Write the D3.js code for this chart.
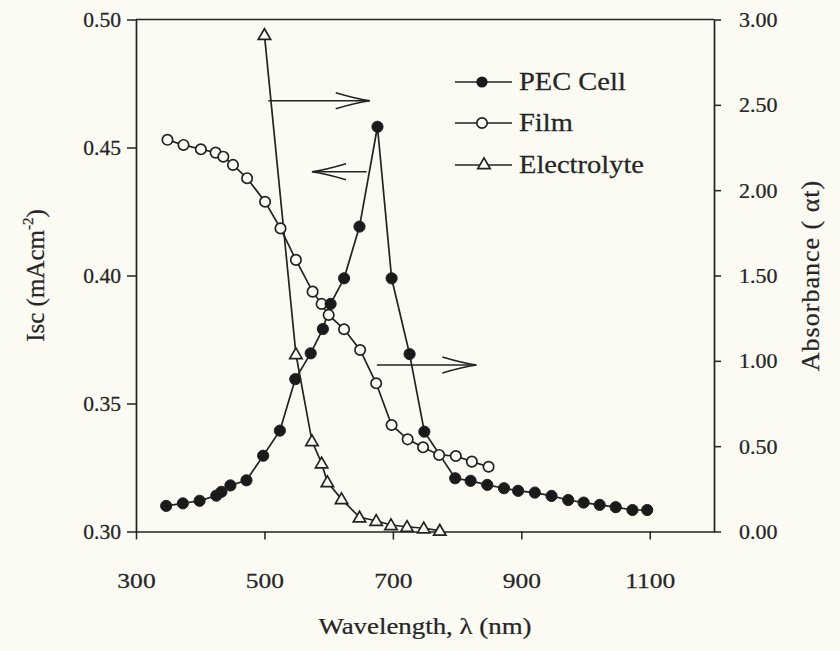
<!DOCTYPE html>
<html>
<head>
<meta charset="utf-8">
<script src="https://cdn.jsdelivr.net/npm/d3@7"></script>
<style>
  html, body { margin: 0; padding: 0; background: #fbfaf3; }
  svg { display: block; }
  text { font-family: "Liberation Serif", "Times New Roman", serif; fill: #262626; stroke: #262626; stroke-width: 0.25; }
</style>
</head>
<body>
<svg id="chart" width="840" height="651"></svg>
<script>
// ---------- data ----------
const wavelengthTicks = [300, 500, 700, 900, 1100];
const iscTicks = [0.30, 0.35, 0.40, 0.45, 0.50];
const absTicks = [0.00, 0.50, 1.00, 1.50, 2.00, 2.50, 3.00];

const pecWavelength = [347, 373, 399, 425, 433, 447, 472, 498, 524, 548, 572, 591, 603, 624, 648, 676, 698, 726, 749, 797, 821, 847, 873, 895, 921, 947, 973, 997, 1022, 1047, 1073, 1096];
const pecIsc        = [0.310, 0.311, 0.312, 0.314, 0.3155, 0.318, 0.320, 0.3296, 0.3394, 0.3595, 0.3696, 0.3791, 0.3889, 0.3989, 0.4191, 0.4581, 0.3989, 0.3693, 0.3390, 0.3208, 0.3198, 0.3182, 0.3169, 0.3159, 0.3152, 0.3139, 0.3123, 0.3113, 0.3104, 0.3095, 0.3084, 0.3084];

const filmWavelength = [349, 374, 401, 424, 436, 451, 473, 501, 525, 549, 575, 589, 600, 624, 649, 674, 698, 723, 747, 772, 798, 823, 849];
const filmIsc        = [0.453, 0.451, 0.4493, 0.448, 0.4464, 0.4432, 0.438, 0.4288, 0.4184, 0.4061, 0.3937, 0.3889, 0.3846, 0.379, 0.3709, 0.3579, 0.3416, 0.336, 0.3329, 0.3299, 0.3295, 0.3273, 0.3253];

const electrolyteWavelength = [500, 549, 574, 589, 598, 620, 648, 674, 697, 722, 748, 773];
const electrolyteAbs        = [2.91, 1.04, 0.53, 0.40, 0.29, 0.19, 0.083, 0.063, 0.038, 0.028, 0.019, 0.005];

const seriesNames = ["PEC Cell", "Film", "Electrolyte"];

// annotation arrows, in data units: [from wavelength, to wavelength, level, axis]
const arrowFrom  = [506, 659, 675];
const arrowTo    = [664, 574, 830];
const arrowLevel = [2.524, 0.4405, 0.976];
const arrowAxis  = ["right", "left", "right"];

// ---------- layout ----------
const W = 840, H = 651;
const plot = { left: 136, right: 714, top: 19.5, bottom: 531.5 };
const ink = "#222";
const paper = "#fbfaf3";

const svg = d3.select("#chart");
svg.append("rect").attr("width", W).attr("height", H).attr("fill", paper);

const x = d3.scaleLinear().domain([300, 1200]).range([plot.left, plot.right]);
const yL = d3.scaleLinear().domain([0.30, 0.50]).range([plot.bottom, plot.top]);
const yR = d3.scaleLinear().domain([0, 3]).range([plot.bottom, plot.top]);

function stretchedText(g, tx, ty, str, size, anchor, sx) {
  return g.append("text")
    .attr("transform", `translate(${tx},${ty}) scale(${sx},1)`)
    .attr("text-anchor", anchor || "start")
    .attr("font-size", size)
    .text(str);
}

// ---------- axes ----------
const axisStyle = sel => {
  sel.select(".domain").attr("stroke", ink).attr("stroke-width", 1.7);
  sel.selectAll(".tick line").attr("stroke", ink).attr("stroke-width", 1.5);
  sel.selectAll(".tick text").remove();
};

const gx = svg.append("g").attr("transform", `translate(0,${plot.bottom})`)
  .call(d3.axisBottom(x).tickValues(wavelengthTicks).tickSize(8).tickSizeOuter(0));
axisStyle(gx);
gx.selectAll(".tick").each(function(d) {
  stretchedText(d3.select(this), 0, 56, d3.format("d")(d), 22, "middle", 1.16);
});

const gyl = svg.append("g").attr("transform", `translate(${plot.left},0)`)
  .call(d3.axisLeft(yL).tickValues(iscTicks).tickSize(9).tickSizeOuter(0));
axisStyle(gyl);
gyl.selectAll(".tick").each(function(d) {
  stretchedText(d3.select(this), -15, 7, d3.format(".2f")(d), 20, "end", 1.08);
});

const gyr = svg.append("g").attr("transform", `translate(${plot.right},0)`)
  .call(d3.axisRight(yR).tickValues(absTicks).tickSize(7).tickSizeOuter(0));
axisStyle(gyr);
gyr.selectAll(".tick").each(function(d) {
  stretchedText(d3.select(this), 25, 7, d3.format(".2f")(d), 20, "start", 1.1);
});

// top frame line
svg.append("line")
  .attr("x1", x(300)).attr("x2", x(1200))
  .attr("y1", yL(0.50)).attr("y2", yL(0.50))
  .attr("stroke", ink).attr("stroke-width", 1.7);

// ---------- axis titles ----------
stretchedText(svg, (plot.left + plot.right) / 2, 634, "Wavelength, λ (nm)", 24, "middle", 1.12);

const leftTitle = svg.append("text")
  .attr("transform", `translate(44,${(plot.top + plot.bottom) / 2}) rotate(-90)`)
  .attr("text-anchor", "middle").attr("font-size", 25);
leftTitle.append("tspan").text("Isc (mAcm");
leftTitle.append("tspan").attr("font-size", 15).attr("dy", -11).text("-2");
leftTitle.append("tspan").attr("dy", 11).text(")");

svg.append("text")
  .attr("transform", `translate(819,${(plot.top + plot.bottom) / 2}) rotate(-90)`)
  .attr("text-anchor", "middle").attr("font-size", 26).attr("letter-spacing", 1)
  .text("Absorbance ( αt)");

// ---------- series ----------
const pec = pecWavelength.map((w, i) => ({ w, v: pecIsc[i] }));
const film = filmWavelength.map((w, i) => ({ w, v: filmIsc[i] }));
const elec = electrolyteWavelength.map((w, i) => ({ w, v: electrolyteAbs[i] }));

const lineL = d3.line().x(d => x(d.w)).y(d => yL(d.v));
const lineR = d3.line().x(d => x(d.w)).y(d => yR(d.v));

const lines = svg.append("g").attr("fill", "none").attr("stroke", ink).attr("stroke-width", 1.7);
lines.append("path").attr("d", lineR(elec));
lines.append("path").attr("d", lineL(film));
lines.append("path").attr("d", lineL(pec));

const triSym = d3.symbol().type(d3.symbolTriangle).size(66);
const marks = svg.append("g");
marks.selectAll(".tri").data(elec).join("path")
  .attr("transform", d => `translate(${x(d.w)},${yR(d.v) + 1})`)
  .attr("d", triSym()).attr("fill", paper).attr("stroke", ink).attr("stroke-width", 1.7);
marks.selectAll(".film").data(film).join("circle")
  .attr("cx", d => x(d.w)).attr("cy", d => yL(d.v)).attr("r", 5.2)
  .attr("fill", paper).attr("stroke", ink).attr("stroke-width", 1.7);
marks.selectAll(".pec").data(pec).join("circle")
  .attr("cx", d => x(d.w)).attr("cy", d => yL(d.v)).attr("r", 5.6)
  .attr("fill", "#1a1a1a").attr("stroke", ink).attr("stroke-width", 1);

// ---------- arrows ----------
const arrows = svg.append("g").attr("fill", "none").attr("stroke", ink).attr("stroke-width", 1.5);
arrowFrom.forEach((f, i) => {
  const ys = arrowAxis[i] === "right" ? yR : yL;
  const x0 = x(f), x1 = x(arrowTo[i]), yy = ys(arrowLevel[i]);
  const dir = Math.sign(x1 - x0);
  arrows.append("line").attr("x1", x0).attr("x2", x1).attr("y1", yy).attr("y2", yy);
  const back = x1 - dir * 34;
  arrows.append("path")
    .attr("d", `M${back},${yy - 8} Q${x1 - dir * 14},${yy - 2} ${x1},${yy} Q${x1 - dir * 14},${yy + 2} ${back},${yy + 8}`);
});

// ---------- legend ----------
const legendRows = [82, 123, 165];
const legend = svg.append("g");
seriesNames.forEach((name, i) => {
  const ly = legendRows[i];
  legend.append("line").attr("x1", 455).attr("x2", 512).attr("y1", ly).attr("y2", ly)
    .attr("stroke", ink).attr("stroke-width", 1.7);
  if (i === 0) {
    legend.append("circle").attr("cx", 482).attr("cy", ly).attr("r", 5.6).attr("fill", "#1a1a1a");
  } else if (i === 1) {
    legend.append("circle").attr("cx", 482).attr("cy", ly).attr("r", 5.2)
      .attr("fill", paper).attr("stroke", ink).attr("stroke-width", 1.7);
  } else {
    legend.append("path").attr("transform", `translate(484,${ly})`).attr("d", triSym())
      .attr("fill", paper).attr("stroke", ink).attr("stroke-width", 1.7);
  }
  stretchedText(legend, 519, ly + 8, name, 25, "start", 1.14);
});
</script>
</body>
</html>
